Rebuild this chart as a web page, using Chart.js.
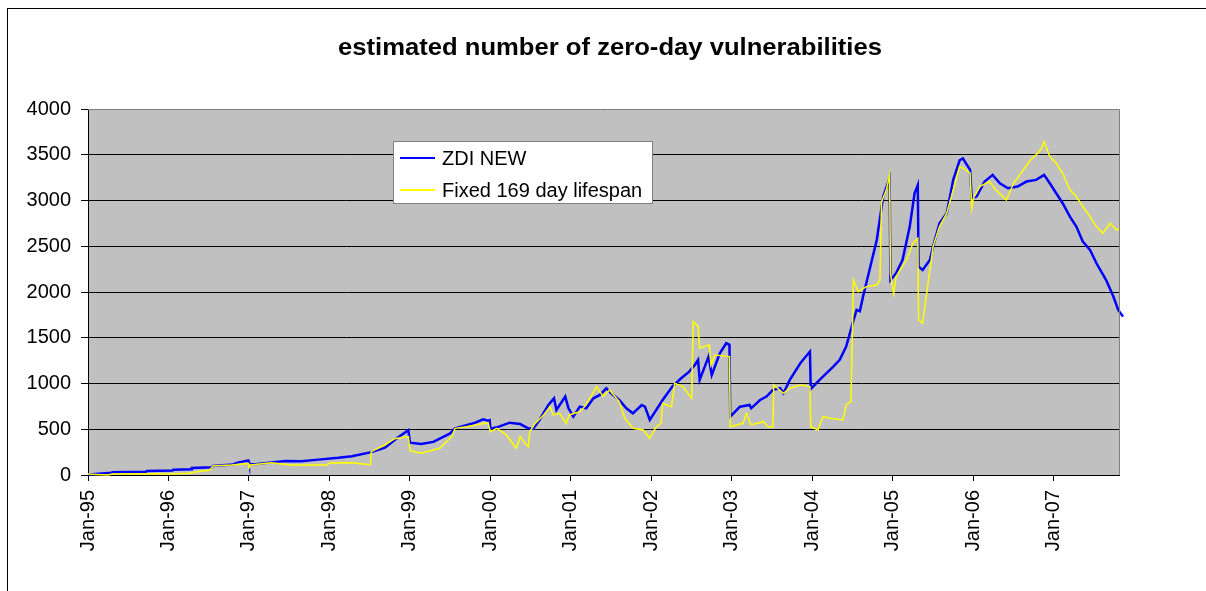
<!DOCTYPE html>
<html><head><meta charset="utf-8">
<script src="https://cdn.jsdelivr.net/npm/chart.js@4.4.1/dist/chart.umd.min.js"></script>
<style>
html,body{margin:0;padding:0;background:#fff;overflow:hidden;width:1206px;height:591px}
#frame{position:absolute;left:7px;top:8px;width:1300px;height:700px;border:1px solid #000;box-sizing:border-box}
#c{position:absolute;left:0;top:0}
</style></head>
<body><div id="frame"></div><canvas id="c" width="1206" height="591"></canvas>
<script>
const FONT = "Arial, 'Liberation Sans', sans-serif";
const chartTitle = 'estimated number of zero-day vulnerabilities';
const seriesNames = ['ZDI NEW', 'Fixed 169 day lifespan'];
const tickYears = [1995,1996,1997,1998,1999,2000,2001,2002,2003,2004,2005,2006,2007];
const tickLabels = ['Jan-95','Jan-96','Jan-97','Jan-98','Jan-99','Jan-00','Jan-01','Jan-02','Jan-03','Jan-04','Jan-05','Jan-06','Jan-07'];
const yTicks = [0,500,1000,1500,2000,2500,3000,3500,4000];

// ZDI NEW (years since Jan-95, value)
const zdiYears = [0.00,0.05,0.29,0.30,0.72,0.73,1.05,1.06,1.28,1.29,1.54,1.55,1.80,1.86,1.99,2.00,2.10,2.28,2.45,2.65,2.86,3.11,3.28,3.52,3.69,3.85,3.98,4.00,4.14,4.29,4.50,4.56,4.79,4.91,4.97,4.99,5.00,5.08,5.24,5.37,5.47,5.53,5.61,5.72,5.79,5.82,5.93,5.97,6.03,6.11,6.19,6.28,6.36,6.44,6.50,6.60,6.69,6.77,6.88,6.92,6.98,7.14,7.26,7.37,7.47,7.54,7.58,7.60,7.71,7.75,7.85,7.93,7.97,7.98,8.10,8.22,8.24,8.35,8.43,8.51,8.60,8.64,8.72,8.85,8.97,8.98,9.09,9.26,9.34,9.42,9.50,9.55,9.59,9.63,9.71,9.80,9.88,9.96,9.97,10.04,10.12,10.21,10.27,10.31,10.32,10.37,10.46,10.50,10.58,10.67,10.75,10.83,10.87,10.96,10.98,11.04,11.14,11.24,11.33,11.43,11.55,11.66,11.78,11.88,11.95,12.03,12.11,12.20,12.28,12.36,12.45,12.53,12.65,12.74,12.80,12.86];
const zdiValues = [5,8,25,30,35,44,48,58,62,77,85,98,115,135,158,118,120,138,152,150,168,188,205,250,300,410,490,353,338,362,454,510,565,608,594,600,505,521,572,557,510,505,601,765,838,710,857,729,638,747,729,838,875,948,893,820,729,674,765,747,601,820,966,1057,1130,1203,1258,1039,1294,1093,1331,1440,1422,638,747,765,729,820,857,930,948,893,1039,1221,1349,940,1039,1184,1258,1403,1658,1804,1790,1950,2241,2569,3043,3243,2131,2204,2350,2715,3079,3170,2277,2241,2350,2496,2751,2861,3225,3440,3460,3334,3024,3043,3207,3280,3188,3134,3152,3207,3225,3280,3188,3079,2970,2824,2715,2551,2460,2314,2131,1950,1804,1731];

// Fixed 169 day lifespan
const fixedYears = [0.00,0.10,0.25,0.30,0.72,1.00,1.28,1.29,1.52,1.55,1.78,1.99,2.00,2.02,2.28,2.52,2.97,3.00,3.28,3.48,3.51,3.52,3.69,3.81,3.98,4.00,4.14,4.37,4.52,4.56,4.70,4.97,5.00,5.08,5.20,5.32,5.37,5.43,5.47,5.49,5.55,5.66,5.74,5.78,5.86,5.94,5.98,6.11,6.17,6.26,6.32,6.40,6.48,6.60,6.67,6.77,6.90,6.98,7.06,7.12,7.14,7.25,7.29,7.39,7.50,7.52,7.58,7.60,7.72,7.74,7.79,7.97,7.98,8.14,8.18,8.24,8.39,8.45,8.51,8.52,8.64,8.72,8.85,8.97,8.98,9.07,9.13,9.22,9.38,9.42,9.48,9.51,9.57,9.67,9.80,9.84,9.86,9.92,9.96,9.97,10.01,10.04,10.17,10.25,10.31,10.32,10.37,10.46,10.50,10.58,10.67,10.75,10.83,10.91,10.96,10.98,11.00,11.08,11.20,11.28,11.41,11.50,11.62,11.71,11.78,11.85,11.88,11.95,12.03,12.11,12.20,12.28,12.36,12.45,12.53,12.61,12.70,12.78,12.82,12.86];
const fixedValues = [10,5,0,12,15,11,18,26,55,98,109,127,77,109,135,109,109,131,135,116,116,255,328,397,420,266,237,292,419,510,528,572,474,510,437,292,419,346,310,474,557,656,747,656,674,565,656,692,747,875,966,857,930,802,620,510,492,401,528,565,784,747,1002,966,838,1676,1622,1385,1422,1203,1312,1294,528,565,674,547,583,528,528,984,893,948,984,966,528,492,638,620,601,765,802,2131,2004,2058,2077,2131,2988,3116,3280,2204,1986,2168,2350,2532,2587,1695,1658,2241,2496,2715,2861,3116,3371,3334,3298,2916,3024,3152,3207,3116,3006,3188,3334,3443,3498,3571,3644,3480,3407,3298,3116,3043,2934,2824,2715,2642,2751,2678,2697,2460];

const BASE_YEAR = 1995;
const toPts = (xs, ys) => xs.map((x, i) => ({ x: BASE_YEAR + x, y: ys[i] }));

const plotBg = {
  id: 'plotBg',
  beforeDraw(chart) {
    const { ctx, chartArea: a } = chart;
    ctx.save();
    ctx.fillStyle = '#C0C0C0';
    ctx.fillRect(a.left, a.top, a.right - a.left, a.bottom - a.top);
    ctx.restore();
  },
  afterDatasetsDraw(chart) {
    const { ctx, chartArea: a } = chart;
    ctx.save();
    ctx.strokeStyle = '#808080';
    ctx.lineWidth = 1;
    ctx.beginPath();
    ctx.moveTo(a.left, Math.round(a.top) + 0.5);
    ctx.lineTo(Math.round(a.right) + 0.5, Math.round(a.top) + 0.5);
    ctx.lineTo(Math.round(a.right) + 0.5, a.bottom);
    ctx.stroke();
    ctx.restore();
  }
};

const titleText = {
  id: 'titleText',
  afterDraw(chart) {
    const { ctx } = chart;
    ctx.save();
    ctx.font = 'bold 23px ' + FONT;
    ctx.fillStyle = '#000';
    ctx.textAlign = 'center';
    ctx.textBaseline = 'alphabetic';
    const w = ctx.measureText(chartTitle).width;
    const sx = 544 / w;
    ctx.translate(610, 55);
    ctx.scale(sx, 1);
    ctx.fillText(chartTitle, 0, 0);
    ctx.restore();
  }
};

const boxLegend = {
  id: 'boxLegend',
  afterDraw(chart) {
    const { ctx, chartArea: a } = chart;
    const x0 = a.left + 305, y0 = a.top + 32, w = 259, h = 62;
    ctx.save();
    ctx.fillStyle = '#fff';
    ctx.fillRect(x0, y0, w, h);
    ctx.strokeStyle = '#808080';
    ctx.lineWidth = 1;
    ctx.strokeRect(x0 + 0.5, y0 + 0.5, w, h);
    ctx.font = '20px ' + FONT;
    ctx.textBaseline = 'alphabetic';
    ctx.fillStyle = '#000';
    const rows = [y0 + 17, y0 + 49];
    chart.data.datasets.forEach((ds, i) => {
      ctx.strokeStyle = ds.borderColor;
      ctx.lineWidth = 2;
      ctx.beginPath();
      ctx.moveTo(x0 + 7, rows[i]);
      ctx.lineTo(x0 + 42, rows[i]);
      ctx.stroke();
      ctx.fillText(ds.label, x0 + 49, rows[i] + 7);
    });
    ctx.restore();
  }
};

new Chart(document.getElementById('c'), {
  type: 'line',
  data: {
    datasets: [
      { label: seriesNames[0], data: toPts(zdiYears, zdiValues), borderColor: '#0000FF', borderWidth: 2.5, pointRadius: 0, tension: 0, clip: false, order: 2 },
      { label: seriesNames[1], data: toPts(fixedYears, fixedValues), borderColor: '#FFFF00', borderWidth: 1.5, pointRadius: 0, tension: 0, clip: false, order: 1 }
    ]
  },
  options: {
    responsive: false,
    animation: false,
    events: [],
    layout: { padding: { top: 109, right: 87, left: 0, bottom: 0 } },
    plugins: {
      legend: { display: false },
      tooltip: { enabled: false },
      title: { display: false }
    },
    scales: {
      x: {
        type: 'linear', min: BASE_YEAR, max: BASE_YEAR + 12.81,
        afterBuildTicks: s => { s.ticks = tickYears.map(v => ({ value: v })); },
        afterFit: s => { s.height = 116; },
        ticks: {
          color: '#000', font: { family: FONT, size: 20 }, padding: 9,
          minRotation: 90, maxRotation: 90, autoSkip: false,
          callback: v => tickLabels[tickYears.indexOf(v)]
        },
        grid: { drawOnChartArea: false, drawTicks: true, tickLength: 6, color: '#000' },
        border: { display: true, color: '#000', width: 1 }
      },
      y: {
        min: 0, max: 4000,
        afterBuildTicks: s => { s.ticks = yTicks.map(v => ({ value: v })); },
        afterFit: s => { s.width = 88; },
        ticks: { color: '#000', font: { family: FONT, size: 20 }, padding: 10, callback: v => String(v) },
        grid: { color: '#000', lineWidth: 1, tickLength: 7, drawTicks: true },
        border: { display: true, color: '#000', width: 1 }
      }
    }
  },
  plugins: [plotBg, titleText, boxLegend]
});
</script>
</body></html>
